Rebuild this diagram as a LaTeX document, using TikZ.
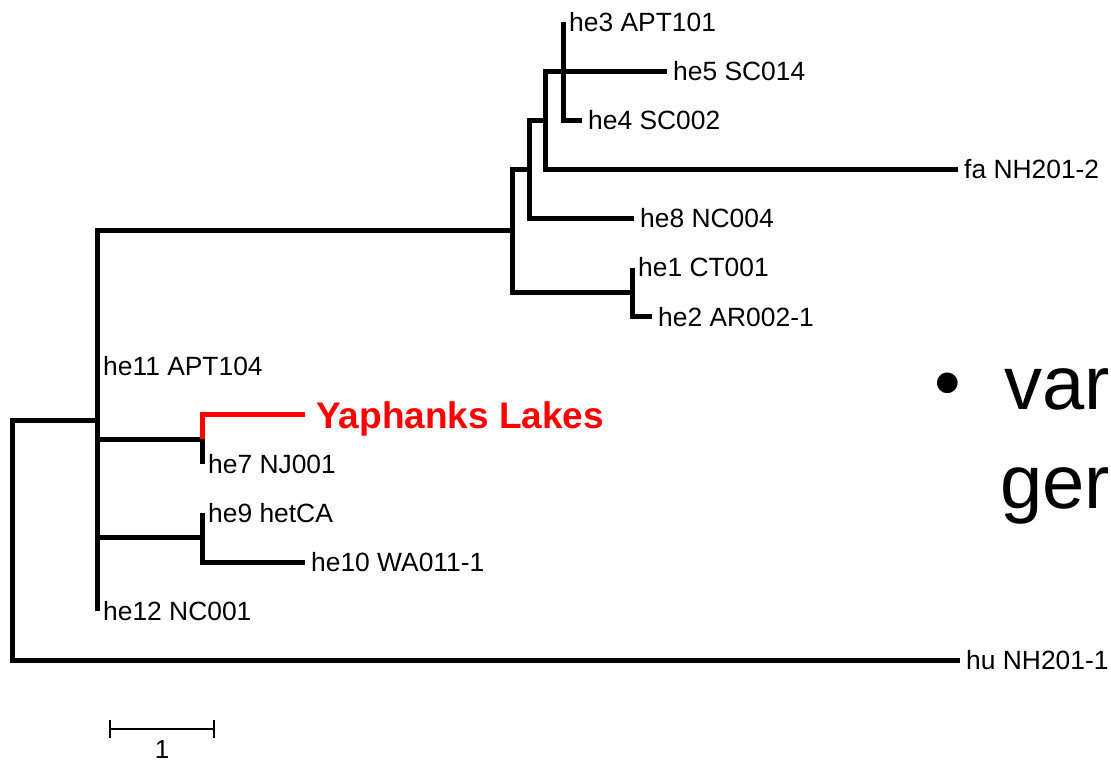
\documentclass[tikz,border=0pt]{standalone}
\usepackage{fontspec}
\setmainfont{Liberation Sans}
\begin{document}
\begin{tikzpicture}[x=1pt,y=-1pt,
  br/.style={line width=5pt, line cap=butt, line join=miter},
  sb/.style={line width=1.6pt},
  leaf/.style={anchor=west, inner xsep=6pt, inner ysep=0pt, text height=18.9pt, text depth=0pt, font=\fontsize{26.4}{31}\selectfont},
  yleaf/.style={anchor=west, inner xsep=11pt, inner ysep=0pt, text height=26.5pt, text depth=0pt, font=\fontsize{37}{44}\selectfont\bfseries, text=red},
  big/.style={anchor=base west, inner sep=0pt, font=\fontsize{76}{90}\selectfont}]
\useasboundingbox (0,0) rectangle (1111,763);
\clip (0,0) rectangle (1111,763);
% internal nodes
\coordinate (R) at (12,540.6);
\coordinate (A) at (97,420.9);
\coordinate (B) at (512,230.6);
\coordinate (F) at (529,169.3);
\coordinate (D) at (545,120.2);
\coordinate (E) at (563,71.1);
\coordinate (G) at (632,292);
\coordinate (H) at (202,439.4);
\coordinate (I) at (202,537.5);
% leaves
\node[leaf] (he3) at (563,22) {he3 APT101};
\node[leaf] (he5) at (667,71.1) {he5 SC014};
\node[leaf] (he4) at (582,120.2) {he4 SC002};
\node[leaf] (fa) at (958,169.3) {fa NH201-2};
\node[leaf] (he8) at (634,218.4) {he8 NC004};
\node[leaf] (he1) at (632,267.5) {he1 CT001};
\node[leaf] (he2) at (652,316.6) {he2 AR002-1};
\node[leaf] (he11) at (97,365.7) {he11 APT104};
\node[yleaf] (yl) at (305,414.8) {Yaphanks Lakes};
\node[leaf] (he7) at (202,463.9) {he7 NJ001};
\node[leaf] (he9) at (202,513) {he9 hetCA};
\node[leaf] (he10) at (305,562.1) {he10 WA011-1};
\node[leaf] (he12) at (97,611.2) {he12 NC001};
\node[leaf] (hu) at (960,660.3) {hu NH201-1};
% branches
\draw[br] (R) |- (A);
\draw[br] (R) |- (hu.west);
\draw[br] (A) |- (B);
\draw[br] (A) -- (he11.west);
\draw[br] (A) |- (H);
\draw[br] (A) |- (I);
\draw[br] (A) -- (he12.west);
\draw[br] (B) |- (F);
\draw[br] (B) |- (G);
\draw[br] (F) |- (D);
\draw[br] (F) |- (he8.west);
\draw[br] (D) |- (E);
\draw[br] (D) |- (fa.west);
\draw[br] (E) -- (he3.west);
\draw[br] (E) -- (he5.west);
\draw[br] (E) |- (he4.west);
\draw[br] (G) -- (he1.west);
\draw[br] (G) |- (he2.west);
\draw[br,red] (H) |- (yl.west);
\draw[br] (H) -- (he7.west);
\draw[br] (I) -- (he9.west);
\draw[br] (I) |- (he10.west);
% scale bar
\coordinate (s1) at (110,729);
\coordinate (s2) at (214,729);
\draw[sb] (s1) -- (s2);
\draw[sb] ([yshift=-9pt]s1) -- ([yshift=9pt]s1);
\draw[sb] ([yshift=-9pt]s2) -- ([yshift=9pt]s2);
\node[anchor=base, inner sep=0pt, font=\fontsize{26}{31}\selectfont] (one) at (162,758) {1};
% slide text
\node[big, anchor=base] (bul) at (948,408) {•};
\node[big] (t1) at (1004,409) {var};
\node[big] (t2) at (1000,508) {ger};
\end{tikzpicture}
\end{document}
